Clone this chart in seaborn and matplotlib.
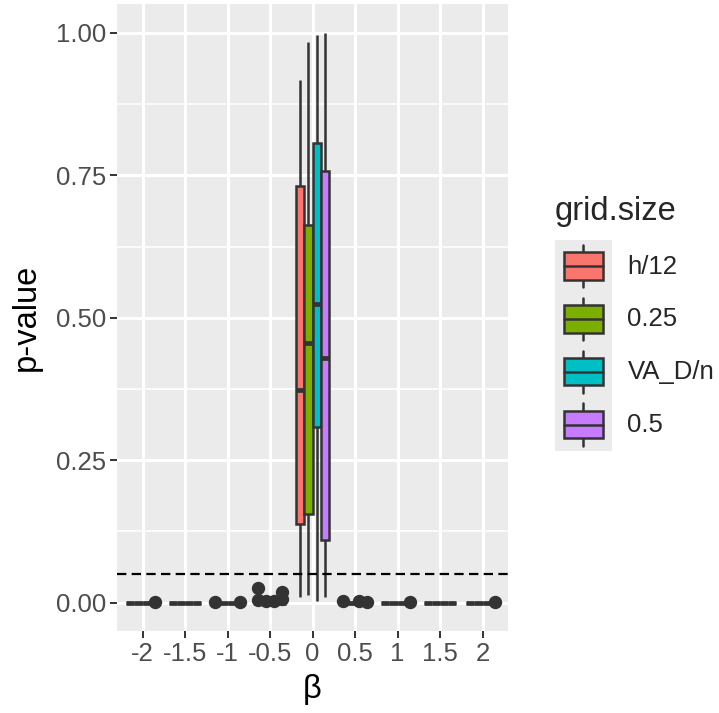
import numpy as np
import pandas as pd
import seaborn as sns
import matplotlib
matplotlib.use("Agg")
import matplotlib.pyplot as plt
from matplotlib.patches import Patch, Rectangle
from matplotlib.lines import Line2D
from matplotlib.legend_handler import HandlerBase

# ---------------- data ----------------
beta_levels = ["-2", "-1.5", "-1", "-0.5", "0", "0.5", "1", "1.5", "2"]
grid_levels = ["h/12", "0.25", "VA_D/n", "0.5"]
grid_colors = ["#F8766D", "#7CAE00", "#00BFC4", "#C77CFF"]

# beta = 0: p-values (min, q1, median, q3, max) per grid size
p_beta0_h12 = [0.010, 0.137, 0.374, 0.732, 0.918]
p_beta0_025 = [0.014, 0.156, 0.456, 0.663, 0.984]
p_beta0_vadn = [0.002, 0.309, 0.524, 0.807, 0.996]
p_beta0_05 = [0.009, 0.110, 0.430, 0.758, 1.000]

# other betas: p-values essentially zero, plus a few outliers
n_zero = 20
outlier_beta = ["-2", "-1", "-1", "-0.5", "-0.5", "-0.5", "-0.5", "-0.5", "-0.5",
                "0.5", "0.5", "0.5", "1", "2"]
outlier_grid = ["0.5", "h/12", "0.5", "h/12", "h/12", "0.25", "VA_D/n", "0.5", "0.5",
                "h/12", "VA_D/n", "0.5", "0.5", "0.5"]
outlier_p = [0.001, 0.001, 0.001, 0.025, 0.004, 0.002, 0.003, 0.018, 0.006,
             0.002, 0.002, 0.001, 0.001, 0.001]

alpha_line = 0.05

# ---------------- build table ----------------
rows = []
beta0 = dict(zip(grid_levels, [p_beta0_h12, p_beta0_025, p_beta0_vadn, p_beta0_05]))
for b in beta_levels:
    for g in grid_levels:
        if b == "0":
            for v in beta0[g]:
                rows.append((b, g, v))
        else:
            for _ in range(n_zero):
                rows.append((b, g, 0.0))
for b, g, v in zip(outlier_beta, outlier_grid, outlier_p):
    rows.append((b, g, v))
df = pd.DataFrame(rows, columns=["beta", "grid.size", "p"])

# ---------------- plot ----------------
sns.set_theme(style="darkgrid")
plt.rcParams["font.family"] = ["Liberation Sans", "DejaVu Sans"]

W, H, DPI = 719, 713, 100
fig = plt.figure(figsize=(W / DPI, H / DPI), dpi=DPI)
ax = fig.add_axes([117 / W, 1 - 631 / H, (508 - 117) / W, (631 - 4.5) / H])

dark = "#333333"
sns.boxplot(
    data=df, x="beta", y="p", hue="grid.size",
    order=beta_levels, hue_order=grid_levels, palette=grid_colors,
    width=0.76, gap=0, dodge=True, whis=1.5,
    linewidth=1.8, linecolor=dark, showcaps=False, saturation=1,
    fliersize=8.6,
    flierprops=dict(marker="o", markerfacecolor=dark, markeredgecolor=dark),
    medianprops=dict(color=dark, linewidth=3.4),
    whiskerprops=dict(color=dark, linewidth=1.8),
    ax=ax, legend=False, zorder=3,
)

ax.axhline(alpha_line, color="black", linewidth=1.6, linestyle=(0, (4.2, 2.4)), zorder=4)

ax.set_facecolor("#EBEBEB")
ax.set_xlim(-0.6, len(beta_levels) - 0.4)
ax.set_ylim(-0.05, 1.05)
ax.set_yticks([0, 0.25, 0.5, 0.75, 1.0])
ax.set_yticklabels(["0.00", "0.25", "0.50", "0.75", "1.00"])
ax.set_yticks([0.125, 0.375, 0.625, 0.875], minor=True)
ax.grid(which="major", color="white", linewidth=2.2)
ax.grid(which="minor", axis="y", color="white", linewidth=1.1)
ax.set_axisbelow(True)
for s in ax.spines.values():
    s.set_visible(False)
ax.tick_params(axis="both", which="major", length=5, width=1.4, color=dark,
               labelsize=18.5, labelcolor="#4D4D4D", pad=3, bottom=True, left=True)
ax.tick_params(axis="y", which="minor", length=0)
ax.set_xlabel("β", fontsize=23.5, color="black", labelpad=6)
ax.set_ylabel("p-value", fontsize=23.5, color="black", labelpad=10)


# ---------------- legend ----------------
class BoxKeyHandler(HandlerBase):
    def create_artists(self, legend, orig_handle, xdescent, ydescent,
                       width, height, fontsize, trans):
        col = orig_handle.get_facecolor()
        x0, y0 = -xdescent, -ydescent
        bg = Rectangle((x0, y0), width, height, facecolor="#EBEBEB",
                       edgecolor="none", transform=trans)
        bw, bh = width * 0.70, height * 0.52
        bx, by = x0 + (width - bw) / 2, y0 + (height - bh) / 2
        cx = x0 + width / 2
        w1 = Line2D([cx, cx], [y0 + height * 0.1, by], color=dark, lw=1.8, transform=trans)
        w2 = Line2D([cx, cx], [by + bh, y0 + height * 0.9], color=dark, lw=1.8, transform=trans)
        box = Rectangle((bx, by), bw, bh, facecolor=col, edgecolor=dark, lw=1.8,
                        transform=trans)
        med = Line2D([bx, bx + bw], [by + bh / 2] * 2, color=dark, lw=1.8, transform=trans)
        return [bg, w1, w2, box, med]


handles = [Patch(facecolor=c) for c in grid_colors]
leg = fig.legend(
    handles, grid_levels, title="grid.size",
    loc="upper left", bbox_to_anchor=(555 / W, 1 - 196 / H),
    frameon=False, fontsize=18.5, title_fontsize=23.5,
    handler_map={Patch: BoxKeyHandler()},
    handlelength=57 / 25.7, handleheight=2.79,
    labelspacing=0.0, handletextpad=0.6, borderpad=0, borderaxespad=0,
)
leg._legend_box.align = "left"
leg._legend_box.sep = 9

fig.savefig("out.png", dpi=DPI, facecolor="white")
